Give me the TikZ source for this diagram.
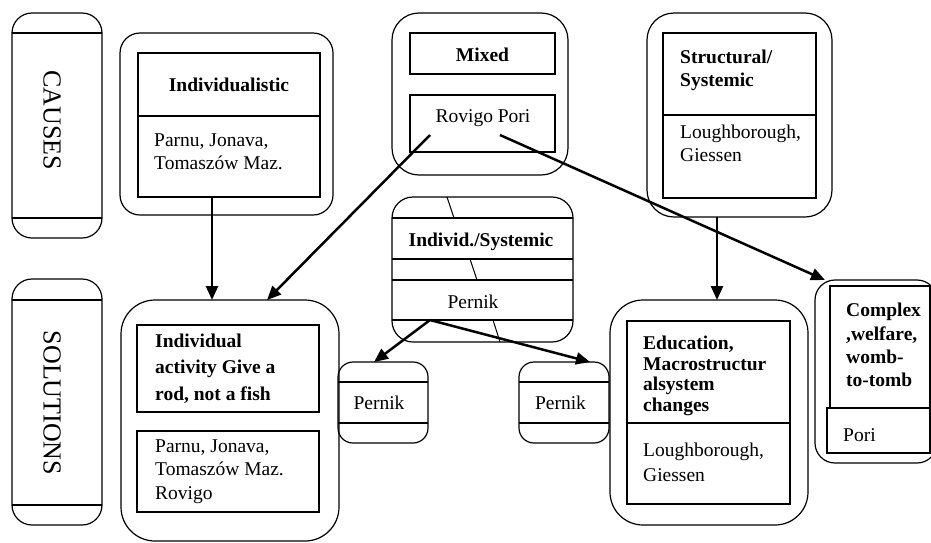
\documentclass[tikz,border=0pt]{standalone}
\usepackage{fontspec}
\setmainfont{Liberation Serif}
\usetikzlibrary{arrows.meta,calc}
\begin{document}
\begin{tikzpicture}[x=1pt,y=-1pt,
  frame/.style={draw, line width=1.2pt, rounded corners=#1, inner sep=0pt, outer sep=0pt},
  frame/.default=20pt,
  boxx/.style={draw, line width=1.2pt, inner sep=0pt, outer sep=0pt},
  sz/.style 2 args={minimum width=#1, minimum height=#2},
  txt/.style={inner sep=0pt, align=left, font=\fontsize{19.5}{#1}\selectfont},
  txt/.default=23,
  btxt/.style={inner sep=0pt, align=left, font=\fontsize{19.5}{#1}\selectfont\bfseries},
  btxt/.default=23,
  lbl/.style={inner sep=0pt, font=\fontsize{26}{30}\selectfont},
  arr/.style={line width=2.5pt, -{Triangle[length=14pt,width=12pt]}},
  sep/.style={line width=1.2pt}]
\fill[white] (0,0) rectangle (931,542);
\useasboundingbox (0,0) rectangle (931,542);

% side labels
\node[frame=20pt, sz={90}{225}] (causes) at (57,125.5) {};
\draw[sep] ($(causes.north west)+(0,20)$) -- ($(causes.north east)+(0,20)$);
\draw[sep] ($(causes.south west)+(0,-20)$) -- ($(causes.south east)+(0,-20)$);
\node[lbl, rotate=-90] (tCauses) at (52,120) {CAUSES};

\node[frame=20pt, sz={90}{246}] (solutions) at (57,402) {};
\draw[sep] ($(solutions.north west)+(0,21)$) -- ($(solutions.north east)+(0,21)$);
\draw[sep] ($(solutions.south west)+(0,-20)$) -- ($(solutions.south east)+(0,-20)$);
\node[lbl, rotate=-90] (tSolutions) at (52,403) {SOLUTIONS};

% Individualistic
\node[frame=20pt, sz={213}{182}] (indiv) at (226.5,124) {};
\node[boxx, sz={182}{63}] (indivT) at (229,84.5) {};
\node[boxx, sz={182}{81}] (indivC) at (229,156.5) {};
\node[btxt] (tIndiv) at (229,85) {Individualistic};
\node[txt, anchor=west] (tIndivC) at (154,151.5) {Parnu, Jonava,\\Tomaszów Maz.};

% Mixed
\node[frame=27pt, sz={176}{162}] (mixed) at (480,94) {};
\node[boxx, sz={145}{41}] (mixedT) at (482.5,53.5) {};
\node[boxx, sz={145}{57}] (mixedC) at (482.5,123.5) {};
\node[btxt] (tMixed) at (482.5,55) {Mixed};
\node[txt] (tMixedC) at (483,118) {Rovigo Pori};

% Structural/Systemic
\node[frame=27pt, sz={185}{204}] (struct) at (739.5,115) {};
\node[boxx, sz={153}{82}] (structT) at (739.5,74) {};
\node[boxx, sz={153}{83}] (structC) at (739.5,156.5) {};
\node[btxt, anchor=west] (tStruct) at (680,70) {Structural/\\Systemic};
\node[txt, anchor=west] (tStructC) at (680,143.5) {Loughborough,\\Giessen};

% Individ./Systemic
\node[frame=21pt, sz={181}{145}] (is) at (482.5,269.5) {};
\draw[sep] ($(is.north west)+(0,21)$) -- ($(is.north east)+(0,21)$);
\draw[sep] ($(is.north west)+(0,62)$) -- ($(is.north east)+(0,62)$);
\draw[sep] ($(is.north west)+(0,83)$) -- ($(is.north east)+(0,83)$);
\draw[sep] ($(is.north west)+(0,123)$) -- ($(is.north east)+(0,123)$);
\draw[line width=1pt] ($(is.north west)+(55,0)$) -- ($(is.north west)+(62,21)$);
\draw[line width=1pt] ($(is.north west)+(78,62)$) -- ($(is.north west)+(85,83)$);
\draw[line width=1pt] ($(is.north west)+(101,123)$) -- ($(is.north west)+(108,145)$);
\node[btxt] (tIS) at (481,242) {Individ./Systemic};
\node[txt] (tISp) at (473,302) {Pernik};

% small Pernik boxes
\node[frame=15pt, sz={90}{81}] (small1) at (383,402.5) {};
\draw[sep] ($(small1.north west)+(0,20)$) -- ($(small1.north east)+(0,20)$);
\draw[sep] ($(small1.south west)+(0,-20)$) -- ($(small1.south east)+(0,-20)$);
\node[txt] (tS1) at (379,403) {Pernik};

\node[frame=15pt, sz={90}{81}] (small2) at (564,402.5) {};
\draw[sep] ($(small2.north west)+(0,20)$) -- ($(small2.north east)+(0,20)$);
\draw[sep] ($(small2.south west)+(0,-20)$) -- ($(small2.south east)+(0,-20)$);
\node[txt] (tS2) at (560.5,403) {Pernik};

% Individual activity
\node[frame=34pt, sz={218}{241}] (act) at (230,420.5) {};
\node[boxx, sz={182}{87}] (actT) at (228,368.5) {};
\node[boxx, sz={182}{81}] (actC) at (228,471.5) {};
\node[btxt=26.5, anchor=west] (tAct) at (155,368.5) {Individual\\activity Give a\\rod, not a fish};
\node[txt=23.5, anchor=west] (tActC) at (155,471.5) {Parnu, Jonava,\\Tomaszów Maz.\\Rovigo};

% Education
\node[frame=33pt, sz={198}{225}] (edu) at (709,412.5) {};
\node[boxx, sz={163}{102}] (eduT) at (708.5,372) {};
\node[boxx, sz={163}{81}] (eduC) at (708.5,463.5) {};
\node[btxt=20.7, anchor=west] (tEdu) at (643,376) {Education,\\Macrostructur\\alsystem\\changes};
\node[txt=25, anchor=west] (tEduC) at (643,462.5) {Loughborough,\\Giessen};

% Complex
\node[frame=20pt, sz={122}{183}] (complex) at (876,371.5) {};
\node[boxx, sz={100}{122}] (complexT) at (880,347) {};
\node[boxx, sz={103}{45}] (complexC) at (878.5,430.5) {};
\node[btxt=23.3, anchor=west] (tCx) at (846,345) {Complex\\,welfare,\\womb-\\to-tomb};
\node[txt, anchor=west] (tPori) at (843,435) {Pori};

% connector end points
\coordinate (a1) at ($(indivC.south)+(-17,0)$);
\coordinate (a4) at ($(struct.south)+(-22.5,0)$);
\coordinate (pm) at ($(is.center)+(-52.5,50.5)$);

% connectors
\draw[arr] (a1) -- (a1 |- act.north);
\draw[arr] ($(mixedC.center)+(-52.5,11.5)$) -- ($(act.north)+(37,0)$);
\draw[arr] ($(mixedC.center)+(17.5,11.5)$) -- ($(complex.north west)+(10,0)$);
\draw[arr] (a4) -- (a4 |- edu.north);
\draw[arr] (pm) -- ($(small1.north)+(-9,0)$);
\draw[arr] (pm) -- ($(small2.north)+(26,0)$);
\end{tikzpicture}
\end{document}
